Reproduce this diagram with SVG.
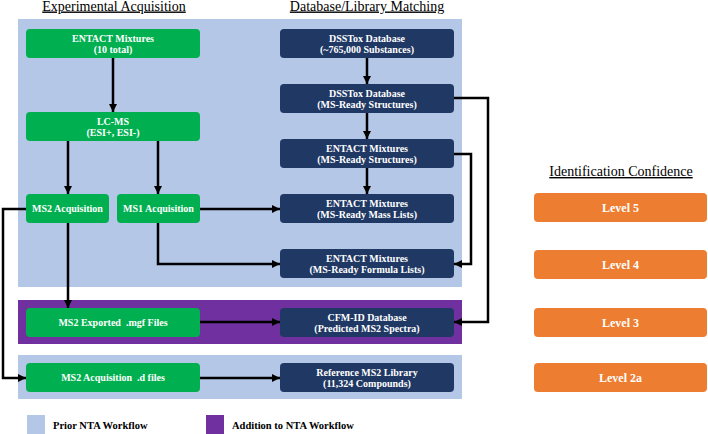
<svg xmlns="http://www.w3.org/2000/svg" width="708" height="434" viewBox="0 0 708 434" font-family="'Liberation Serif', 'DejaVu Serif', serif">
<defs>
<marker id="ah" viewBox="0 0 10 10" refX="10" refY="5" markerWidth="8" markerHeight="8" markerUnits="userSpaceOnUse" orient="auto"><path d="M0,0 L10,5 L0,10 z" fill="#000"/></marker>
</defs>
<style>
.g{fill:#00B050}
.d{fill:#203864}
.o{fill:#ED7D31}
text{font-family:"Liberation Serif","DejaVu Serif",serif}
.t{font-weight:bold;font-size:10px;fill:#fff;text-anchor:middle}
.lv{font-weight:bold;font-size:12px;fill:#fff;text-anchor:middle}
.h{font-size:14px;fill:#000;text-anchor:middle;text-decoration:underline}
.lg{font-weight:bold;font-size:10.5px;fill:#000}
.c{fill:none;stroke:#000;stroke-width:2.5}
</style>
<rect width="708" height="434" fill="#fff"/>
<g id="panels">
<rect x="18" y="19" width="444" height="268" fill="#B4C7E7"/>
<rect x="18" y="300" width="444" height="44" fill="#7030A0"/>
<rect x="18" y="355" width="444" height="44" fill="#B4C7E7"/>
</g>
<g id="titles">
<text class="h" x="114" y="10.5">Experimental Acquisition</text>
<text class="h" x="367" y="10.5">Database/Library Matching</text>
<text class="h" x="621" y="176">Identification Confidence</text>
</g>
<g id="connectors">
<path class="c" d="M113,58 V112" marker-end="url(#ah)"/>
<path class="c" d="M68,141 V194" marker-end="url(#ah)"/>
<path class="c" d="M158,141 V194" marker-end="url(#ah)"/>
<path class="c" d="M200,209 H280" marker-end="url(#ah)"/>
<path class="c" d="M158,223 V264 H280" marker-end="url(#ah)"/>
<path class="c" d="M26,209 H3 V378 H26" marker-end="url(#ah)"/>
<path class="c" d="M68,223 V308" marker-end="url(#ah)"/>
<path class="c" d="M200,322 H280" marker-end="url(#ah)"/>
<path class="c" d="M200,378 H280" marker-end="url(#ah)"/>
<path class="c" d="M367,58 V84" marker-end="url(#ah)"/>
<path class="c" d="M367,113 V139" marker-end="url(#ah)"/>
<path class="c" d="M367,168 V194" marker-end="url(#ah)"/>
<path class="c" d="M454,98 H488 V322 H454" marker-end="url(#ah)"/>
<path class="c" d="M454,154 H471 V264 H454" marker-end="url(#ah)"/>
</g>
<g id="entact10"><rect class="g" x="26" y="29" width="174" height="29" rx="4"/><text class="t" x="113" y="41.5">ENTACT Mixtures</text><text class="t" x="113" y="53">(10 total)</text></g>
<g id="lcms"><rect class="g" x="26" y="112" width="174" height="29" rx="4"/><text class="t" x="113" y="124.5">LC-MS</text><text class="t" x="113" y="136">(ESI+, ESI-)</text></g>
<g id="ms2acq"><rect class="g" x="26" y="194" width="83" height="29" rx="4"/><text class="t" x="67.5" y="212">MS2 Acquisition</text></g>
<g id="ms1acq"><rect class="g" x="117" y="194" width="83" height="29" rx="4"/><text class="t" x="158.5" y="212">MS1 Acquisition</text></g>
<g id="ms2mgf"><rect class="g" x="26" y="308" width="174" height="29" rx="4"/><text class="t" x="113" y="326" xml:space="preserve">MS2 Exported  .mgf Files</text></g>
<g id="ms2d"><rect class="g" x="26" y="363" width="174" height="29" rx="4"/><text class="t" x="113" y="381" xml:space="preserve">MS2 Acquisition  .d files</text></g>
<g id="dsstox1"><rect class="d" x="280" y="29" width="174" height="29" rx="4"/><text class="t" x="367" y="41.5">DSSTox Database</text><text class="t" x="367" y="53">(~765,000 Substances)</text></g>
<g id="dsstox2"><rect class="d" x="280" y="84" width="174" height="29" rx="4"/><text class="t" x="367" y="96.5">DSSTox Database</text><text class="t" x="367" y="108">(MS-Ready Structures)</text></g>
<g id="entactstruct"><rect class="d" x="280" y="139" width="174" height="29" rx="4"/><text class="t" x="367" y="151.5">ENTACT Mixtures</text><text class="t" x="367" y="163">(MS-Ready Structures)</text></g>
<g id="entactmass"><rect class="d" x="280" y="194" width="174" height="29" rx="4"/><text class="t" x="367" y="206.5">ENTACT Mixtures</text><text class="t" x="367" y="218">(MS-Ready Mass Lists)</text></g>
<g id="entactformula"><rect class="d" x="280" y="249" width="174" height="29" rx="4"/><text class="t" x="367" y="261.5">ENTACT Mixtures</text><text class="t" x="367" y="273">(MS-Ready Formula Lists)</text></g>
<g id="cfmid"><rect class="d" x="280" y="308" width="174" height="29" rx="4"/><text class="t" x="367" y="320.5">CFM-ID Database</text><text class="t" x="367" y="332">(Predicted MS2 Spectra)</text></g>
<g id="reflib"><rect class="d" x="280" y="363" width="174" height="29" rx="4"/><text class="t" x="367" y="375.5">Reference MS2 Library</text><text class="t" x="367" y="387">(11,324 Compounds)</text></g>
<g id="level5"><rect class="o" x="534" y="193" width="173" height="29" rx="4"/><text class="lv" x="620.5" y="212">Level 5</text></g>
<g id="level4"><rect class="o" x="534" y="250" width="173" height="29" rx="4"/><text class="lv" x="620.5" y="269">Level 4</text></g>
<g id="level3"><rect class="o" x="534" y="308" width="173" height="29" rx="4"/><text class="lv" x="620.5" y="327">Level 3</text></g>
<g id="level2a"><rect class="o" x="534" y="363" width="173" height="29" rx="4"/><text class="lv" x="620.5" y="382">Level 2a</text></g>
<g id="legend">
<rect x="27" y="415" width="18" height="19" fill="#B4C7E7"/>
<text class="lg" x="53" y="429">Prior NTA Workflow</text>
<rect x="206" y="415" width="18" height="19" fill="#7030A0"/>
<text class="lg" x="232" y="429">Addition to NTA Workflow</text>
</g>
</svg>
